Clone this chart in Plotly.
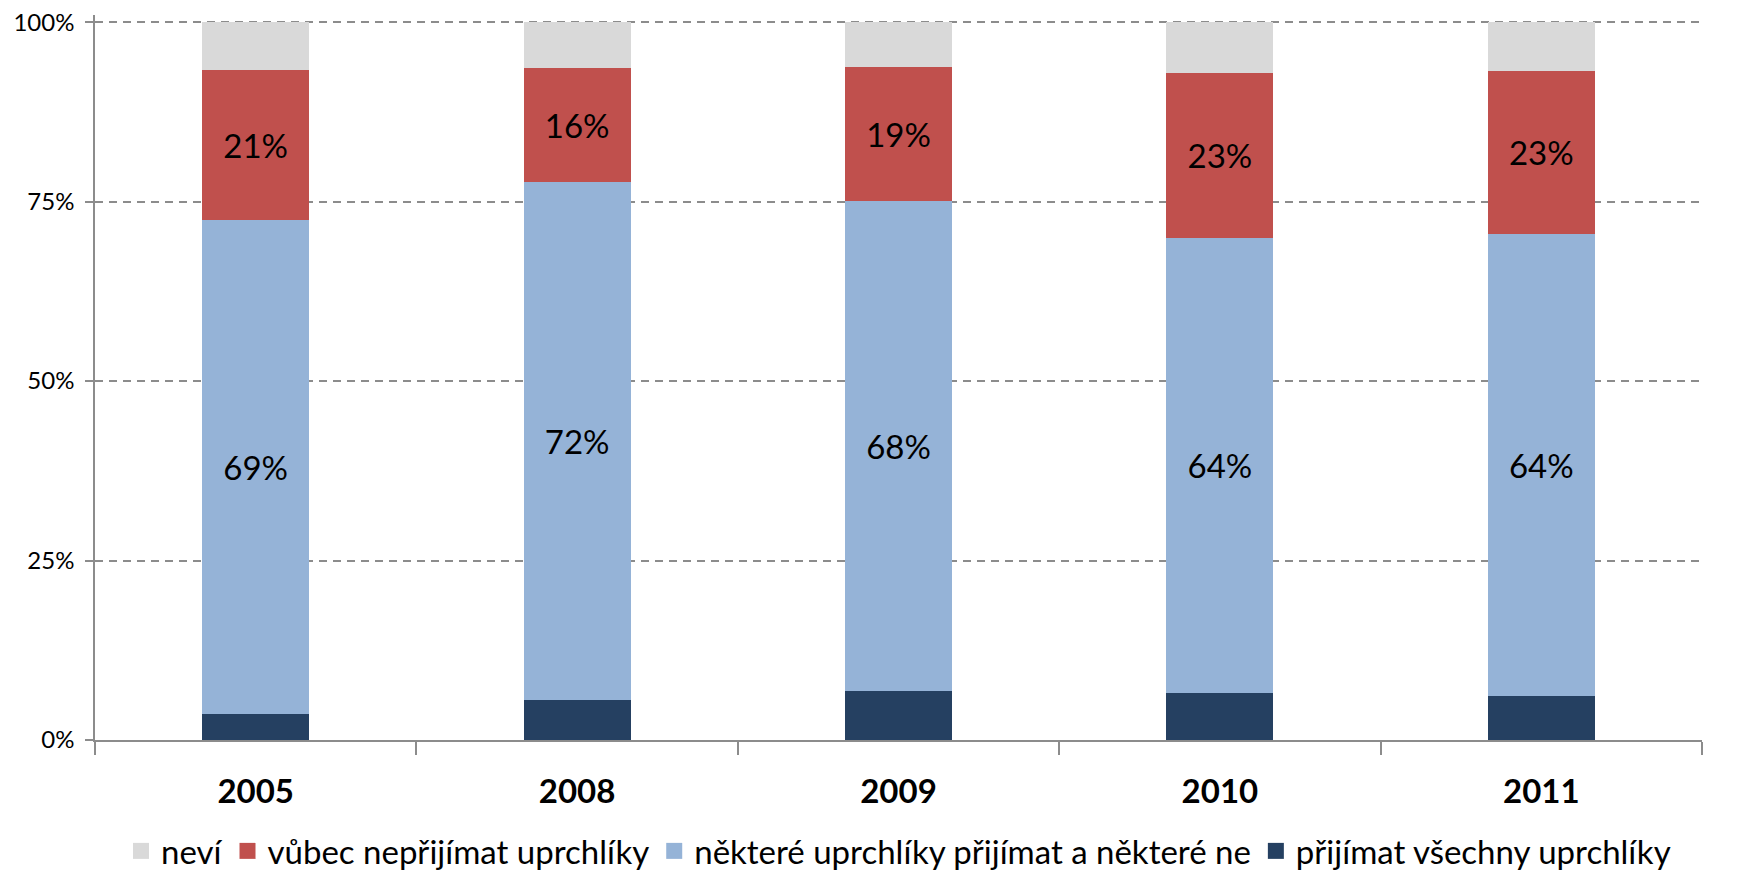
import plotly.graph_objects as go

years = ["2005", "2008", "2009", "2010", "2011"]
vsechny = [3.6, 5.6, 6.8, 6.5, 6.2]
nektere = [68.8, 72.2, 68.3, 63.5, 64.3]
vubec = [20.9, 15.8, 18.7, 22.9, 22.7]
nevi = [6.7, 6.4, 6.2, 7.1, 6.8]

names = ["přijímat všechny uprchlíky", "některé uprchlíky přijímat a některé ne",
         "vůbec nepřijímat uprchlíky", "neví"]
colors = ["#254061", "#95B3D7", "#C0504D", "#D9D9D9"]
series = [vsechny, nektere, vubec, nevi]
show_text = [False, True, True, False]

FONT = "Lato"
fig = go.Figure()
for name, col, vals, st in zip(names, colors, series, show_text):
    fig.add_trace(go.Bar(
        x=years, y=vals, name=name, marker=dict(color=col, line=dict(width=0)),
        text=[f"{round(v)}%" for v in vals] if st else None,
        textposition="inside" if st else "none",
        insidetextanchor="middle",
        textfont=dict(family=FONT, size=33, color="#000000"),
        showlegend=False, hoverinfo="skip"))

# legend entries (bigger square symbols)
for name, col in zip(names, colors):
    fig.add_trace(go.Scatter(
        x=[None], y=[None], mode="markers", name=name,
        marker=dict(symbol="square", size=16, color=col), showlegend=True))

fig.update_layout(
    barmode="stack",
    bargap=0.667,
    width=1739, height=872,
    margin=dict(l=87, r=45, t=7, b=140, autoexpand=False),
    plot_bgcolor="white", paper_bgcolor="white",
    font=dict(family=FONT, color="#000000"),
    uniformtext=dict(mode="show", minsize=10),
    legend=dict(orientation="h", x=0.5, xanchor="center", y=-0.153, yanchor="middle",
                traceorder="reversed", font=dict(family=FONT, size=33),
                itemwidth=30, tracegroupgap=0),
    xaxis=dict(type="category", showline=True, linecolor="#8C8C8C", linewidth=1.5,
               ticks="outside", tickson="boundaries", ticklen=13, tickcolor="#8C8C8C",
               tickwidth=1.5, showgrid=False, automargin=False, ticklabelstandoff=22,
               tickfont=dict(family=FONT, size=33, color="#000000", weight="bold")),
    yaxis=dict(range=[0, 101], tickvals=[0, 25, 50, 75, 100],
               ticktext=["0%", "25%", "50%", "75%", "100%"],
               showline=True, linecolor="#8C8C8C", linewidth=1.5,
               ticks="outside", ticklen=8, tickcolor="#8C8C8C", tickwidth=1.5,
               showgrid=True, gridcolor="#8C8C8C", gridwidth=1.6, griddash="8px,6px",
               zeroline=False, automargin=False, ticklabelstandoff=6,
               ticklabeloverflow="allow",
               tickfont=dict(family=FONT, size=24, color="#000000")),
)

fig.write_html("out.html")
